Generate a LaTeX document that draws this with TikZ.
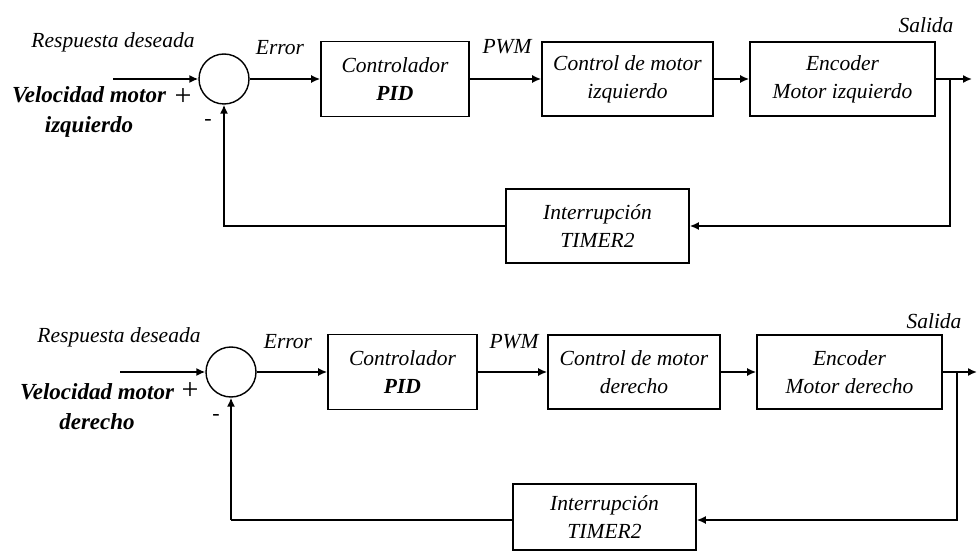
\documentclass[tikz,border=0pt]{standalone}
\usepackage{fontspec}
\setmainfont{Liberation Serif}
\usetikzlibrary{arrows.meta}
\tikzset{
  wire/.style={line width=1.6pt},
  flow/.style={wire, -{Latex[length=9pt,width=8pt]}},
  blk/.style={draw, line width=1.6pt, minimum height=74pt, inner sep=0pt,
    align=center, font=\fontsize{21.5}{28}\selectfont\itshape},
  sumnode/.style={circle, draw, line width=1.4pt, minimum size=50pt, inner sep=0pt},
  lbl/.style={inner sep=0pt, font=\fontsize{21.5}{24}\selectfont\itshape},
  refin/.style={inner sep=0pt, align=center, font=\fontsize{23}{30}\selectfont\bfseries\itshape},
  plussign/.style={inner sep=0pt, font=\fontsize{30}{30}\selectfont},
  minussign/.style={inner sep=0pt, font=\fontsize{22}{24}\selectfont},
}
\begin{document}
\begin{tikzpicture}[x=1pt,y=-1pt]
\useasboundingbox (0,0) rectangle (977,556);

% ---------- left motor loop ----------
\node[sumnode] (s1) at (224,79) {};
\coordinate (in1) at (113,79);
\node[blk, minimum width=148pt, minimum height=75pt] (pid1) at (395,79) {Controlador\\\textbf{PID}};
\node[blk, minimum width=171pt] (mot1) at (627.5,79) {Control de motor\\izquierdo};
\node[blk, minimum width=185pt] (enc1) at (842.5,79) {Encoder\\Motor izquierdo};
\node[blk, minimum width=183pt] (tim1) at (597.5,226) {Interrupción\\TIMER2};
\coordinate (br1) at (950,79);
\coordinate (out1) at (972,79);
\coordinate (dn1) at (950,226);
\coordinate (up1) at (224,226);

\node[lbl] (rd1) at (113,42) {Respuesta deseada};
\node[refin] (vm1) at (89,112) {Velocidad motor\\izquierdo};
\node[plussign] (pl1) at (183,97) {+};
\node[minussign] (mi1) at (208,122) {-};
\node[lbl] (er1) at (280,48) {Error};
\node[lbl] (pw1) at (507,47) {PWM};
\node[lbl] (sa1) at (926,25) {Salida};

\draw[flow] (in1) -- (s1);
\draw[flow] (s1) -- (pid1);
\draw[flow] (pid1) -- (mot1);
\draw[flow] (mot1) -- (enc1);
\draw[flow] (enc1) -- (out1);
\draw[flow] (br1) -- (dn1) -- (tim1);
\draw[flow] (tim1) -- (up1) -- (s1);

% ---------- right motor loop ----------
\node[sumnode] (s2) at (231,372) {};
\coordinate (in2) at (120,372);
\node[blk, minimum width=149pt, minimum height=75pt] (pid2) at (402.5,372) {Controlador\\\textbf{PID}};
\node[blk, minimum width=172pt] (mot2) at (634,372) {Control de motor\\derecho};
\node[blk, minimum width=185pt] (enc2) at (849.5,372) {Encoder\\Motor derecho};
\node[blk, minimum width=183pt, minimum height=66pt] (tim2) at (604.5,517) {Interrupción\\TIMER2};
\coordinate (br2) at (957,372);
\coordinate (out2) at (977,372);
\coordinate (dn2) at (957,520);
\coordinate (up2) at (231,520);

\node[lbl] (rd2) at (119,337) {Respuesta deseada};
\node[refin] (vm2) at (97,407) {Velocidad motor\\derecho};
\node[plussign] (pl2) at (190,391) {+};
\node[minussign] (mi2) at (216,417) {-};
\node[lbl] (er2) at (288,342) {Error};
\node[lbl] (pw2) at (514,342) {PWM};
\node[lbl] (sa2) at (934,321) {Salida};

\draw[flow] (in2) -- (s2);
\draw[flow] (s2) -- (pid2);
\draw[flow] (pid2) -- (mot2);
\draw[flow] (mot2) -- (enc2);
\draw[flow] (enc2) -- (out2);
\draw[flow] (br2) -- (dn2) -- (dn2 -| tim2.east);
\draw[wire] (dn2 -| tim2.west) -- (up2);
\draw[flow] (up2) -- (s2);
\end{tikzpicture}
\end{document}
